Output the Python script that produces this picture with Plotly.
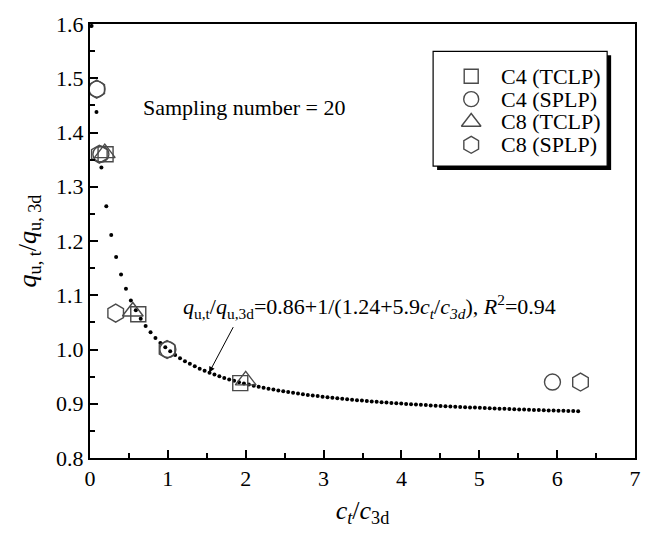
import numpy as np
import plotly.graph_objects as go

# Measured points for each series (c_t/c_3d, q_u,t/q_u,3d)
c4_tclp_x = [0.20, 0.62, 1.93]
c4_tclp_y = [1.36, 1.065, 0.938]
c4_splp_x = [0.09, 0.14, 1.00, 5.94]
c4_splp_y = [1.48, 1.36, 1.00, 0.940]
c8_tclp_x = [0.19, 0.55, 2.00]
c8_tclp_y = [1.362, 1.07, 0.943]
c8_splp_x = [0.086, 0.12, 0.33, 0.99, 6.30]
c8_splp_y = [1.48, 1.36, 1.067, 1.00, 0.940]

# Fitted model: q_u,t/q_u,3d = 0.86 + 1/(1.24 + 5.9 c_t/c_3d)
fit_a, fit_b, fit_c = 0.86, 1.24, 5.9
fit_x = np.linspace(0.02, 6.27, 100)
fit_y = fit_a + 1.0 / (fit_b + fit_c * fit_x)

series_names = ["C4 (TCLP)", "C4 (SPLP)", "C8 (TCLP)", "C8 (SPLP)"]
series_symbols = ["square-open", "circle-open", "triangle-up-open", "hexagon-open"]
series_sizes = [15, 16, 18, 18]

FONT = "Times New Roman, Liberation Serif, serif"
MARK = "#4a4a4a"

fig = go.Figure()

# fitted curve drawn as a dotted line of small dots
fig.add_trace(go.Scatter(
    x=fit_x, y=fit_y, mode="markers",
    marker=dict(size=4, color="black"),
    showlegend=False, hoverinfo="skip",
))

data = [(c4_tclp_x, c4_tclp_y), (c4_splp_x, c4_splp_y),
        (c8_tclp_x, c8_tclp_y), (c8_splp_x, c8_splp_y)]
for (xs, ys), name, sym, sz in zip(data, series_names, series_symbols, series_sizes):
    fig.add_trace(go.Scatter(
        x=xs, y=ys, mode="markers", name=name, cliponaxis=False,
        marker=dict(symbol=sym, size=sz, color=MARK, line=dict(width=1.4, color=MARK)),
        showlegend=False,
    ))

# --- hand-built legend box with drop shadow (paper-fraction coordinates) ---
L, R, T, B = 90, 638, 15, 458
W, H = R - L, B - T
px = lambda v: (v - L) / W
py = lambda v: (B - v) / H

box_l, box_r, box_t, box_b = 435, 610, 43, 160
shadow = 4
fig.add_shape(type="rect", xref="paper", yref="paper", layer="below",
              x0=px(box_l + shadow), x1=px(box_r + shadow),
              y0=py(box_b + shadow), y1=py(box_t + shadow),
              fillcolor="black", line=dict(width=0))
fig.add_shape(type="rect", xref="paper", yref="paper", layer="below",
              x0=px(box_l), x1=px(box_r), y0=py(box_b), y1=py(box_t),
              fillcolor="white", line=dict(color="black", width=1.2))

row_y = [68.3, 91.7, 115.0, 138.3]
sym_x, txt_x = 473.3, 501.0
for name, sym, sz, ry in zip(series_names, series_symbols, series_sizes, row_y):
    fig.add_trace(go.Scatter(
        x=[px(sym_x)], y=[py(ry)], xaxis="x2", yaxis="y2", mode="markers",
        marker=dict(symbol=sym, size=sz - 1, color=MARK, line=dict(width=1.4, color=MARK)),
        showlegend=False, hoverinfo="skip", cliponaxis=False,
    ))
    fig.add_annotation(xref="paper", yref="paper", x=px(txt_x), y=py(ry),
                       xanchor="left", yanchor="middle", showarrow=False,
                       text=name, font=dict(family=FONT, size=22, color="black"))

# --- text annotations ---
fig.add_annotation(x=0.66, y=1.4465, xanchor="left", yanchor="middle", showarrow=False,
                   text="Sampling number = 20",
                   font=dict(family=FONT, size=22, color="black"))
fig.add_annotation(x=1.17, y=1.08, xanchor="left", yanchor="middle", showarrow=False,
                   text="<i>q</i><sub>u,t</sub>/<i>q</i><sub>u,3d</sub>=0.86+1/(1.24+5.9"
                        "<i>c</i><sub><i>t</i></sub>/<i>c</i><sub><i>3d</i></sub>), "
                        "<i>R</i><sup>2</sup>=0.94",
                   font=dict(family=FONT, size=22, color="black"))
tip_x = 1.53
fig.add_annotation(x=tip_x, y=fit_a + 1.0 / (fit_b + fit_c * tip_x),
                   ax=1.85, ay=1.044, axref="x", ayref="y", text="",
                   showarrow=True, arrowhead=2, arrowsize=1.2, arrowwidth=1,
                   arrowcolor="black")

axis_common = dict(
    showgrid=False, zeroline=False, showline=True, linewidth=2, linecolor="black",
    mirror=True, ticks="inside", ticklen=8, tickwidth=2, tickcolor="black",
    tickfont=dict(family=FONT, size=22, color="black"),
)

fig.update_layout(
    width=653, height=541,
    margin=dict(l=L, r=653 - R, t=T, b=541 - B),
    paper_bgcolor="white", plot_bgcolor="white",
    showlegend=False,
    xaxis=dict(range=[0, 7], dtick=1, tick0=0,
               minor=dict(ticks="inside", ticklen=5, tickwidth=2, dtick=0.5, tickcolor="black"),
               title=dict(text="<i>c</i><sub><i>t</i></sub>/<i>c</i><sub>3d</sub>",
                          font=dict(family=FONT, size=26, color="black"), standoff=10),
               **axis_common),
    yaxis=dict(range=[0.8, 1.6], dtick=0.1, tick0=0.8, tickformat=".1f",
               minor=dict(ticks="inside", ticklen=5, tickwidth=2, dtick=0.05, tickcolor="black"),
               title=dict(text="<i>q</i><sub>u, t</sub>/<i>q</i><sub>u, 3d</sub>",
                          font=dict(family=FONT, size=26, color="black"), standoff=12),
               **axis_common),
    xaxis2=dict(overlaying="x", range=[0, 1], visible=False),
    yaxis2=dict(overlaying="y", range=[0, 1], visible=False),
)

fig.write_html("out.html")
